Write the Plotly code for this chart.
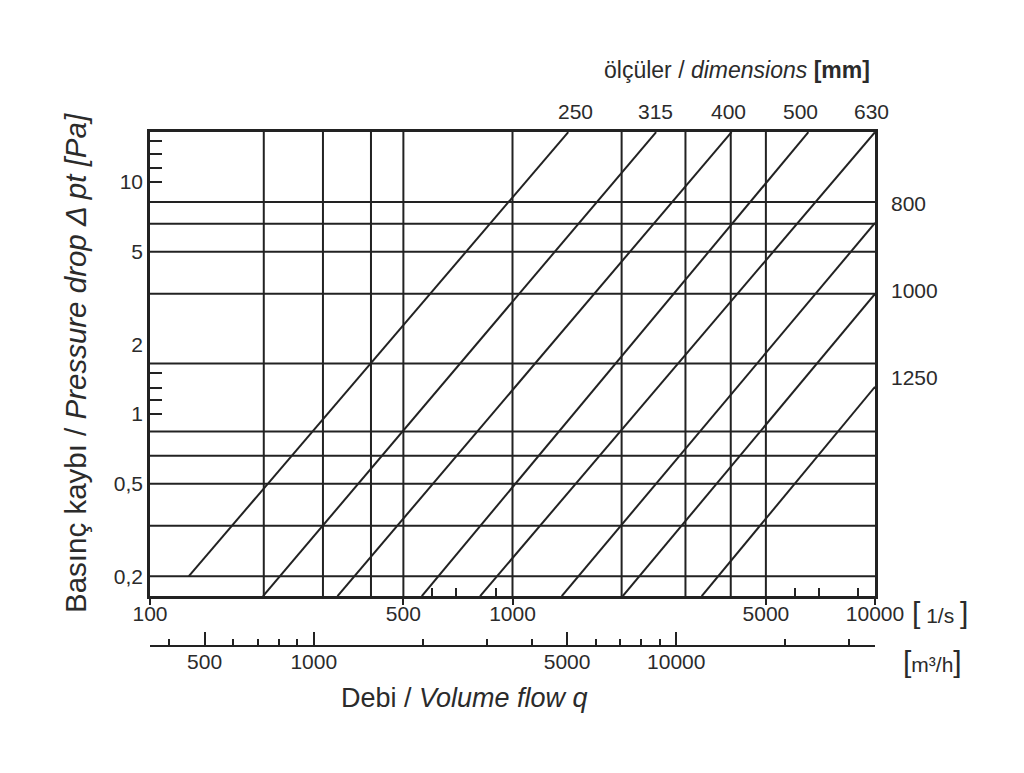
"""Pressure drop vs volume flow chart for circular duct dimensions."""
import math

import plotly.graph_objects as go

# volume flow axis [l/s]
q_tickvals = [100, 500, 1000, 5000, 10000]
q_ticktext = ["100", "500", "1000", "5000", "10000"]
q_minor_ticks = [600, 700, 900, 6000, 7000, 9000]
q_grid = [206, 300, 407, 500, 1000, 2000, 3000, 4000, 5000]

# pressure drop axis [Pa]
dp_tickvals = [0.2, 0.5, 1, 2, 5, 10]
dp_ticktext = ["0,2", "0,5", "1", "2", "5", "10"]
dp_minor_ticks = [1, 1.15, 1.3, 1.5, 10, 11.5, 13.2, 15]
dp_grid = [8.2, 6.6, 5, 3.3, 1.65, 0.84, 0.66, 0.5, 0.33, 0.2]

# second flow scale [m3/h]
m3h_tickvals = [500, 1000, 5000, 10000]
m3h_ticktext = ["500", "1000", "5000", "10000"]
m3h_minor_ticks = [400, 600, 700, 800, 900, 2000, 3000, 4000,
                   6000, 7000, 8000, 9000, 20000, 30000]

# duct dimension lines [mm], start and end points (q in l/s, dp in Pa)
dims = [250, 315, 400, 500, 630, 800, 1000, 1250]
q_start = [128, 205, 329, 562, 814, 1367, 2014, 3326]
dp_start = [0.2, 0.164, 0.164, 0.164, 0.164, 0.164, 0.164, 0.164]
q_end = [1425, 2490, 4020, 6550, 10000, 10000, 10000, 10000]
dp_end = [16.4, 16.4, 16.4, 16.4, 16.4, 6.66, 3.29, 1.31]

Q_RANGE = [2, 4]
DP_RANGE = [-0.7845, 1.2155]
M3H_RANGE = [math.log10(360) - 0.008, math.log10(36000) - 0.008]

INK = "#222222"
TEXT = "#2b2b2b"
FONT = "Liberation Sans, Arial, sans-serif"

q_lo, q_hi = 10 ** Q_RANGE[0], 10 ** Q_RANGE[1]
dp_lo, dp_hi = 10 ** DP_RANGE[0], 10 ** DP_RANGE[1]

fig = go.Figure()

# grid lines
vx, vy = [], []
for q in q_grid:
    vx += [q, q, None]
    vy += [dp_lo, dp_hi, None]
hx, hy = [], []
for dp in dp_grid:
    hx += [q_lo, q_hi, None]
    hy += [dp, dp, None]
fig.add_trace(go.Scatter(x=vx, y=vy, mode="lines", line=dict(color=INK, width=2),
                         hoverinfo="skip", showlegend=False))
fig.add_trace(go.Scatter(x=hx, y=hy, mode="lines", line=dict(color=INK, width=2),
                         hoverinfo="skip", showlegend=False))

# duct lines
for d, qs, ps, qe, pe in zip(dims, q_start, dp_start, q_end, dp_end):
    fig.add_trace(go.Scatter(x=[qs, qe], y=[ps, pe], mode="lines", name=str(d),
                             line=dict(color=INK, width=2), showlegend=False))

# empty trace so the m3/h scale gets drawn
fig.add_trace(go.Scatter(x=m3h_tickvals, y=[None] * len(m3h_tickvals), xaxis="x2",
                         mode="lines", hoverinfo="skip", showlegend=False))

tick_font = dict(family=FONT, size=21, color=TEXT)

# page body has an 8px margin, so the figure is shrunk and shifted to match
fig.update_layout(
    width=1008,
    height=757,
    margin=dict(l=142, r=141, t=124, b=119),
    plot_bgcolor="white",
    paper_bgcolor="white",
    font=dict(family=FONT, color=TEXT),
    xaxis=dict(
        type="log", range=Q_RANGE, domain=[0, 1], anchor="y",
        tickvals=q_tickvals, ticktext=q_ticktext, tickfont=tick_font,
        ticks="outside", ticklen=6, tickwidth=2, tickcolor=INK,
        ticklabelstandoff=-9,
        showgrid=False, zeroline=False,
        showline=True, linewidth=2.5, linecolor=INK, mirror=True,
        minor=dict(tickvals=q_minor_ticks, ticks="inside", ticklen=8,
                   tickwidth=2, tickcolor=INK, showgrid=False),
    ),
    yaxis=dict(
        type="log", range=DP_RANGE, domain=[50 / 514, 1],
        tickvals=dp_tickvals, ticktext=dp_ticktext, tickfont=tick_font,
        ticks="", showgrid=False, zeroline=False,
        showline=True, linewidth=2.5, linecolor=INK, mirror=True,
        minor=dict(tickvals=dp_minor_ticks, ticks="inside", ticklen=12,
                   tickwidth=2, tickcolor=INK, showgrid=False),
    ),
    xaxis2=dict(
        type="log", range=M3H_RANGE, overlaying="x", anchor="free", position=0,
        side="bottom",
        tickvals=m3h_tickvals, ticktext=m3h_ticktext, tickfont=tick_font,
        ticks="inside", ticklen=13, tickwidth=2, tickcolor=INK,
        ticklabelstandoff=-3,
        showgrid=False, zeroline=False,
        showline=True, linewidth=2, linecolor=INK,
        minor=dict(tickvals=m3h_minor_ticks, ticks="inside", ticklen=6,
                   tickwidth=2, tickcolor=INK, showgrid=False),
    ),
)


def px_x(px):
    return (px - 150) / 725


def px_y(py):
    return (646 - py) / 514


annotations = [
    dict(x=px_x(737), y=px_y(70), text="ölçüler / <i>dimensions</i> <b>[mm]</b>",
         font=dict(size=23), xanchor="center", yanchor="middle"),
    dict(x=px_x(464), y=px_y(698), text="Debi / <i>Volume flow q</i>",
         font=dict(size=27), xanchor="center", yanchor="middle"),
    dict(x=px_x(75), y=px_y(363), text="Basınç kaybı / <i>Pressure drop Δ pt [Pa]</i>",
         font=dict(size=29.5), textangle=-90, xanchor="center", yanchor="middle"),
    dict(x=px_x(940), y=px_y(612),
         text='<span style="font-size:30px">[</span> 1/s <span style="font-size:30px">]</span>',
         font=dict(size=21), xanchor="center", yanchor="middle"),
    dict(x=px_x(932), y=px_y(661),
         text='<span style="font-size:30px">[</span>m³/h<span style="font-size:30px">]</span>',
         font=dict(size=21), xanchor="center", yanchor="middle"),
]

top_label_px = [575, 655, 728, 800, 871]
for d, px in zip(dims[:5], top_label_px):
    annotations.append(dict(x=px_x(px), y=px_y(112), text=str(d), font=dict(size=21),
                            xanchor="center", yanchor="middle"))
right_label_py = [204, 290, 377]
for d, py in zip(dims[5:], right_label_py):
    annotations.append(dict(x=px_x(889), y=px_y(py), text=str(d), font=dict(size=21),
                            xanchor="left", yanchor="middle"))

for a in annotations:
    a.update(xref="paper", yref="paper", showarrow=False)
fig.update_layout(annotations=annotations)

fig.write_html("out.html")
